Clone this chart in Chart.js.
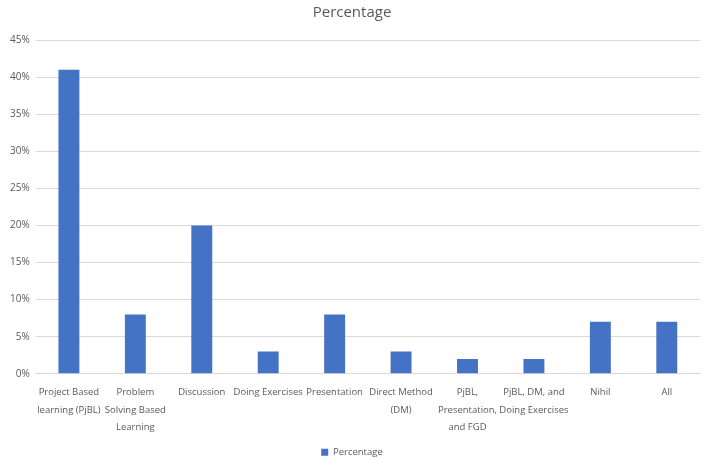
<!DOCTYPE html>
<html>
<head>
<meta charset="utf-8">
<script src="https://cdn.jsdelivr.net/npm/chart.js@4"></script>
<style>
  html, body { margin: 0; padding: 0; background: #fff; }
  #wrap { width: 707px; height: 459px; }
</style>
</head>
<body>
<div id="wrap"><canvas id="myChart" width="707" height="459"></canvas></div>
<script>
const categories = [
    ['Project Based', 'learning (PjBL)'],
    ['Problem', 'Solving Based', 'Learning'],
    'Discussion',
    'Doing Exercises',
    'Presentation',
    ['Direct Method', '(DM)'],
    ['PjBL,', 'Presentation,', 'and FGD'],
    ['PjBL, DM, and', 'Doing Exercises'],
    'Nihil',
    'All'
];
const percentages = [41, 8, 20, 3, 8, 3, 2, 2, 7, 7];
const yTicks = [0, 5, 10, 15, 20, 25, 30, 35, 40, 45];

const renderChart = () => {
    var ctx = document.getElementById('myChart').getContext('2d');
    var chart = new Chart(ctx, {
        type: 'bar',
        data: {
            labels: categories,
            datasets: [{
                label: 'Percentage',
                backgroundColor: '#4472C4',
                borderWidth: 0,
                data: percentages,
                categoryPercentage: 1,
                barPercentage: 0.315
            }]
        },
        options: {
            responsive: false,
            animation: false,
            // legend box keeps 10px of dead space below its text, push it down
            layout: { padding: { left: 4, right: 7, top: 0, bottom: -8 } },
            font: { family: 'Open Sans' },
            plugins: {
                title: {
                    display: true,
                    text: 'Percentage',
                    color: '#595959',
                    font: { family: 'Open Sans', size: 15, weight: 'normal' },
                    padding: { top: 4, bottom: 18 }
                },
                legend: {
                    position: 'bottom',
                    labels: {
                        color: '#595959',
                        font: { family: 'Open Sans', size: 9.5 },
                        boxWidth: 7,
                        boxHeight: 7,
                        padding: 1
                    }
                },
                tooltip: { enabled: false }
            },
            scales: {
                y: {
                    min: 0,
                    max: 45,
                    afterBuildTicks: (axis) => {
                        axis.ticks = yTicks.map(v => ({ value: v }));
                    },
                    ticks: {
                        color: '#595959',
                        font: { family: 'Open Sans', size: 10 },
                        padding: 6,
                        callback: (v) => v + '%'
                    },
                    grid: { color: '#d9d9d9', drawTicks: false },
                    border: { display: false }
                },
                x: {
                    afterFit: (axis) => { axis.height += 8; },
                    ticks: {
                        color: '#595959',
                        font: { family: 'Open Sans', size: 9.5, lineHeight: 1.85 },
                        maxRotation: 0,
                        autoSkip: false,
                        padding: 2
                    },
                    grid: { display: false },
                    border: { color: '#d9d9d9' }
                }
            }
        }
    });
};

renderChart();
</script>
</body>
</html>
